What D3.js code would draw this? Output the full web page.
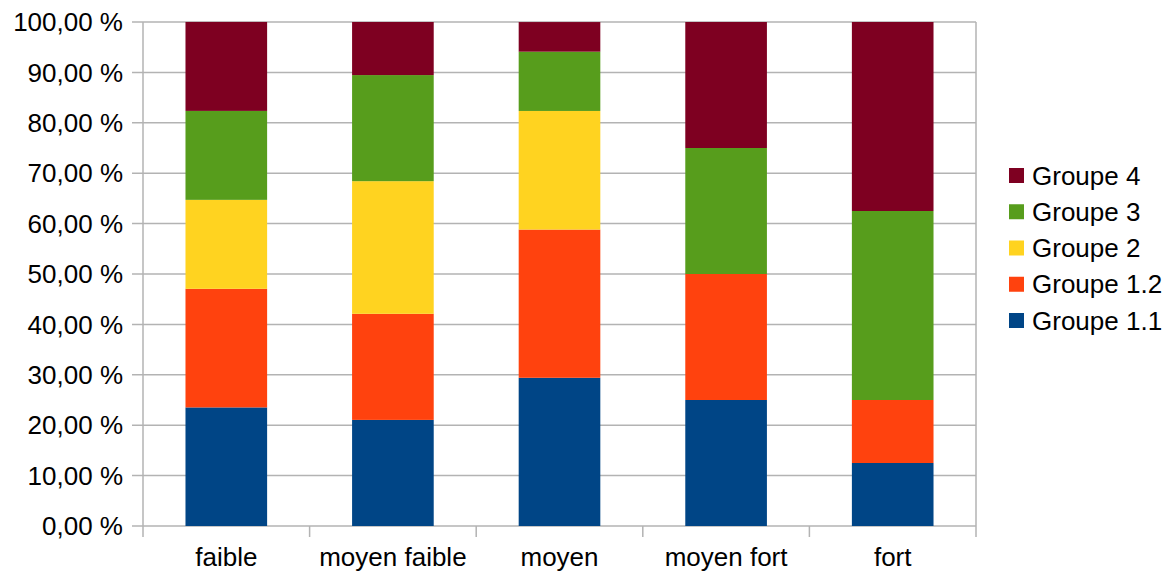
<!DOCTYPE html>
<html>
<head>
<meta charset="utf-8">
<script src="https://cdn.jsdelivr.net/npm/d3@7"></script>
<style>
  html, body { margin: 0; padding: 0; background: #fff; }
  svg { display: block; font-family: "Liberation Sans", Arial, sans-serif; }
</style>
</head>
<body>
<svg id="chart" width="1172" height="571"></svg>
<script>
// Categories and series (percent of each category)
const categories = ["faible", "moyen faible", "moyen", "moyen fort", "fort"];
const seriesNames = ["Groupe 1.1", "Groupe 1.2", "Groupe 2", "Groupe 3", "Groupe 4"];
const groupe11 = [23.53, 21.05, 29.41, 25.00, 12.50];
const groupe12 = [23.53, 21.05, 29.41, 25.00, 12.50];
const groupe2  = [17.65, 26.32, 23.53, 0.00, 0.00];
const groupe3  = [17.65, 21.05, 11.76, 25.00, 37.50];
const groupe4  = [17.65, 10.53, 5.88, 25.00, 37.50];
const seriesColors = ["#004586", "#ff420e", "#ffd320", "#579d1c", "#7e0021"];
const yTicks = [0, 10, 20, 30, 40, 50, 60, 70, 80, 90, 100];

const seriesValues = [groupe11, groupe12, groupe2, groupe3, groupe4];
const rows = categories.map((c, i) => {
  const r = { category: c };
  seriesNames.forEach((s, k) => { r[s] = seriesValues[k][i]; });
  return r;
});

const svg = d3.select("#chart");
const plot = { left: 143, right: 976, top: 22, bottom: 526 };
const gridColor = "#b3b3b3";
const fontSize = 26;

const x = d3.scaleBand().domain(categories).range([plot.left, plot.right]).paddingInner(0.51).paddingOuter(0.255);
const band = d3.scaleBand().domain(categories).range([plot.left, plot.right]);
const y = d3.scaleLinear().domain([0, 100]).range([plot.bottom, plot.top]);

// Horizontal grid lines
svg.append("g").selectAll("line").data(yTicks).join("line")
  .attr("x1", plot.left - 11).attr("x2", plot.right)
  .attr("y1", d => y(d)).attr("y2", d => y(d))
  .attr("stroke", gridColor).attr("stroke-width", 1.5);

// Left axis line and right border
svg.append("line").attr("x1", plot.left).attr("x2", plot.left)
  .attr("y1", plot.top).attr("y2", plot.bottom + 11)
  .attr("stroke", gridColor).attr("stroke-width", 1.5);
svg.append("line").attr("x1", plot.right).attr("x2", plot.right)
  .attr("y1", plot.top).attr("y2", plot.bottom + 11)
  .attr("stroke", gridColor).attr("stroke-width", 1.5);

// Category separator ticks below the baseline
svg.append("g").selectAll("line").data(categories.slice(1)).join("line")
  .attr("x1", d => band(d)).attr("x2", d => band(d))
  .attr("y1", plot.bottom).attr("y2", plot.bottom + 11)
  .attr("stroke", gridColor).attr("stroke-width", 1.5);

// Stacked bars
const stack = d3.stack().keys(seriesNames)(rows);
svg.append("g").selectAll("g").data(stack).join("g")
  .attr("fill", (d, i) => seriesColors[i])
  .selectAll("rect").data(d => d).join("rect")
  .attr("x", d => x(d.data.category))
  .attr("width", x.bandwidth())
  .attr("y", d => y(d[1]))
  .attr("height", d => y(d[0]) - y(d[1]));

// Y tick labels
const fmt = v => v.toFixed(2).replace(".", ",") + " %";
svg.append("g").selectAll("text").data(yTicks).join("text")
  .attr("x", 123).attr("y", d => y(d))
  .attr("dy", "0.35em")
  .attr("text-anchor", "end")
  .attr("font-size", fontSize)
  .attr("fill", "#000")
  .text(fmt);

// X category labels
svg.append("g").selectAll("text").data(categories).join("text")
  .attr("x", d => band(d) + band.bandwidth() / 2)
  .attr("y", 566)
  .attr("text-anchor", "middle")
  .attr("font-size", fontSize)
  .attr("fill", "#000")
  .text(d => d);

// Legend (top entry is the last series)
const legendItems = seriesNames.map((s, i) => ({ name: s, color: seriesColors[i] })).reverse();
const legend = svg.append("g").selectAll("g").data(legendItems).join("g")
  .attr("transform", (d, i) => `translate(1009, ${168 + i * 36.25})`);
legend.append("rect").attr("width", 15).attr("height", 15).attr("fill", d => d.color);
legend.append("text").attr("x", 23).attr("y", 7.5).attr("dy", "0.35em")
  .attr("font-size", fontSize).attr("fill", "#000").text(d => d.name);
</script>
</body>
</html>
